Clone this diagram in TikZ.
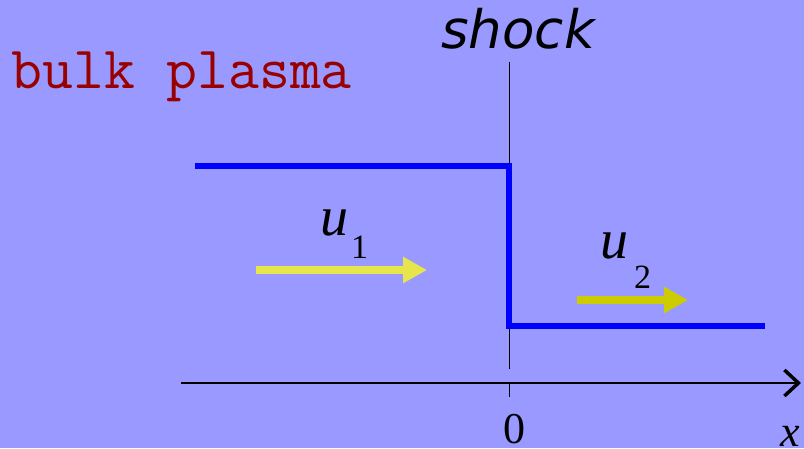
\documentclass[tikz,border=0pt]{standalone}
\usepackage{fontspec}
\setmainfont{Liberation Serif}
\newfontfamily\shockfont{DejaVu Sans}
\usetikzlibrary{arrows.meta}
\definecolor{bgc}{HTML}{9999FF}
\definecolor{stepblue}{HTML}{0000FF}
\definecolor{bulkred}{HTML}{990000}
\definecolor{yellowA}{HTML}{E6E64C}
\definecolor{yellowB}{HTML}{CCCC00}
\tikzset{
  lbl/.style={inner sep=0pt, outer sep=0pt, anchor=base west},
  flow/.style={line width=8pt, -{Triangle[length=24pt,width=25pt]}},
  thin/.style={line width=1pt, black},
}
\begin{document}
\begin{tikzpicture}[x=1pt,y=-1pt]
\fill[bgc] (0,0) rectangle (804,448);
\useasboundingbox (0,0) rectangle (804,448);
% texts
\node[lbl, text=bulkred] (bulk) at (12,88) {\fontsize{60}{60}\ttfamily bulk plasma};
\node[lbl, anchor=base] (shock) at (518,48) {\fontsize{53}{53}\shockfont\itshape shock};
\node[lbl] (u1) at (320,235) {\fontsize{56}{56}\selectfont\itshape u};
\node[lbl] (s1) at (351,258) {\fontsize{34}{34}\selectfont 1};
\node[lbl] (u2) at (600,258) {\fontsize{56}{56}\selectfont\itshape u};
\node[lbl] (s2) at (634,288) {\fontsize{34}{34}\selectfont 2};
\node[lbl, anchor=base] (zero) at (514,443) {\fontsize{44}{44}\selectfont 0};
\node[lbl] (xl) at (780,446) {\fontsize{44}{44}\selectfont\itshape x};
% shock line and tick
\coordinate (sTop) at (509,62);
\coordinate (sBot) at (509,369);
\coordinate (tTop) at (509,383);
\coordinate (tBot) at (509,397);
\draw[thin] (sTop) -- (sBot);
\draw[thin] (tTop) -- (tBot);
% axis
\coordinate (aL) at (181,383);
\coordinate (aR) at (801,383);
\draw[line width=1.6pt, -{Straight Barb[length=14pt,width=26pt,line width=3.5pt]}] (aL) -- (aR);
% step profile
\coordinate (p1) at (195,166);
\coordinate (p2) at (509,166);
\coordinate (p3) at (509,326);
\coordinate (p4) at (765,326);
\draw[stepblue, line width=6pt, line join=miter] (p1) -- (p2) -- (p3) -- (p4);
% flow arrows
\coordinate (f1a) at (256,270);
\coordinate (f1b) at (427,270);
\coordinate (f2a) at (577,300);
\coordinate (f2b) at (688,300);
\draw[flow, yellowA] (f1a) -- (f1b);
\draw[flow, yellowB] (f2a) -- (f2b);
\end{tikzpicture}
\end{document}
